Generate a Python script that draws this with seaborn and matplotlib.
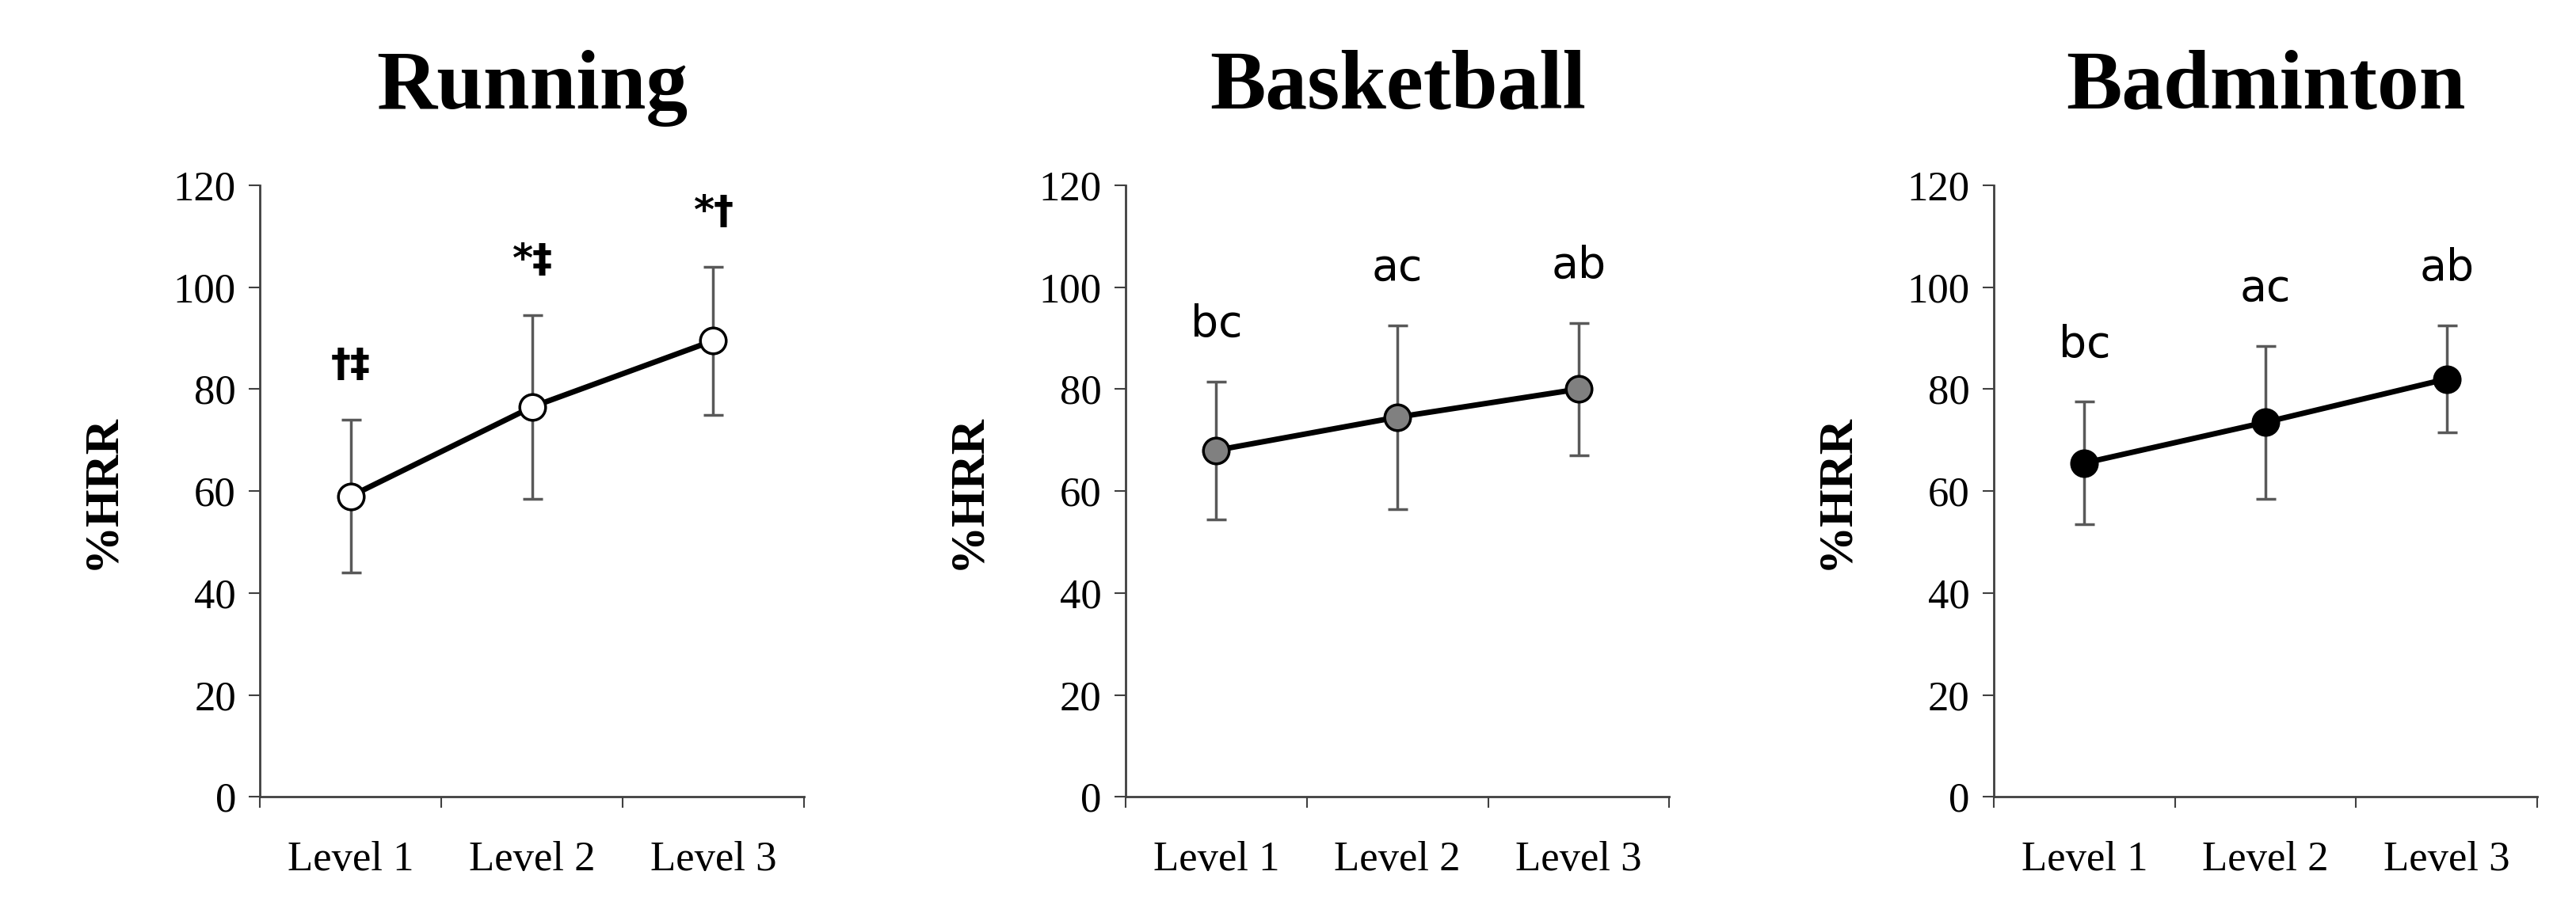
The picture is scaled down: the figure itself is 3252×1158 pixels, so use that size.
import matplotlib
matplotlib.use('Agg')
import matplotlib.pyplot as plt
import seaborn as sns
import pandas as pd

sports = ['Running', 'Basketball', 'Badminton']
levels = ['Level 1', 'Level 2', 'Level 3']
means = {'Running': [59, 76.5, 89.5], 'Basketball': [68, 74.5, 80], 'Badminton': [65.5, 73.5, 82]}
sds = {'Running': [15, 18, 14.5], 'Basketball': [13.5, 18, 13], 'Badminton': [12, 15, 10.5]}
labels = {'Running': ['†‡', '*‡', '*†'], 'Basketball': ['bc', 'ac', 'ab'], 'Badminton': ['bc', 'ac', 'ab']}
fills = {'Running': 'white', 'Basketball': '#808080', 'Badminton': 'black'}

sns.set_style('white')
plt.rcParams['font.family'] = ['Liberation Serif', 'DejaVu Serif']
plt.rcParams['text.color'] = 'black'
plt.rcParams['xtick.color'] = 'black'
plt.rcParams['ytick.color'] = 'black'
plt.rcParams['axes.labelcolor'] = 'black'

fig = plt.figure(figsize=(32.52, 11.58), dpi=100)
lefts = [0.101, 0.437, 0.774]
for sport, left in zip(sports, lefts):
    ax = fig.add_axes([left, 0.131, 0.211, 0.667])
    df = pd.DataFrame({'x': [0.5, 1.5, 2.5], 'y': means[sport]})
    ax.errorbar(df['x'], df['y'], yerr=sds[sport], fmt='none', ecolor='#595959',
                elinewidth=2.5, capsize=9, capthick=2.5, zorder=1)
    sns.lineplot(data=df, x='x', y='y', ax=ax, color='black', lw=5, zorder=2)
    ax.scatter(df['x'], df['y'], s=550, facecolor=fills[sport], edgecolor='black', lw=2.5, zorder=3)
    for x, m, s, t in zip(df['x'], means[sport], sds[sport], labels[sport]):
        if sport == 'Running':
            ax.text(x, m + s + 7, t, ha='center', va='bottom', fontsize=36, fontweight='bold',
                    family=['DejaVu Sans'])
        else:
            ax.text(x, m + s + 7, t, ha='center', va='bottom', fontsize=40, family=['DejaVu Sans'])
    ax.set_xlim(0, 3)
    ax.set_ylim(0, 120)
    ax.set_yticks(range(0, 121, 20))
    ax.set_xticks([0, 1, 2, 3])
    ax.set_xticklabels([])
    ax.set_xticks([0.5, 1.5, 2.5], minor=True)
    ax.set_xticklabels(levels, minor=True, fontsize=38)
    ax.tick_params(axis='x', which='minor', length=0, pad=40)
    ax.tick_params(axis='x', which='major', length=10, width=1.5, direction='out', color='#404040')
    ax.tick_params(axis='y', length=10, width=1.5, direction='out', labelsize=38, color='#404040', pad=12)
    ax.tick_params(bottom=True, left=True)
    sns.despine(ax=ax)
    for sp in ['left', 'bottom']:
        ax.spines[sp].set_linewidth(2)
        ax.spines[sp].set_color('#404040')
    ax.set_xlabel('')
    ax.set_ylabel('%HRR', fontsize=44, fontweight='bold', labelpad=45)
    ax.set_title(sport, fontsize=76, fontweight='bold', pad=70)

fig.savefig('out.png', dpi=100)
